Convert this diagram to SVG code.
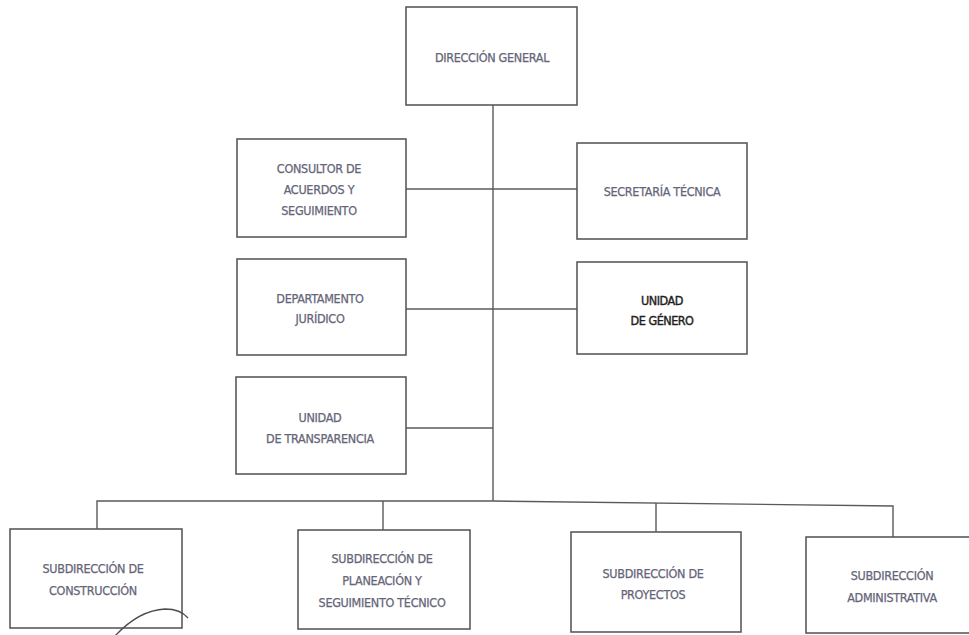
<svg xmlns="http://www.w3.org/2000/svg" width="969" height="635" viewBox="0 0 969 635">
<style>
.box{fill:#ffffff;stroke:#5a5a5e;stroke-width:1.6}
.ln{fill:none;stroke:#5a5a5e;stroke-width:1.4}
text{font-family:"DejaVu Sans Condensed","DejaVu Sans","Liberation Sans",sans-serif;font-size:12.5px;fill:#656578;stroke:#656578;stroke-width:0.25;text-anchor:middle;letter-spacing:-0.3px}
.dark{fill:#1e1e22;stroke:#1e1e22;stroke-width:0.4;letter-spacing:-0.5px}
</style>
<rect x="0" y="0" width="969" height="635" fill="#ffffff"/>
<g id="connectors">
<path class="ln" d="M493 105 V501"/>
<path class="ln" d="M406 189 H577"/>
<path class="ln" d="M406 309 H577"/>
<path class="ln" d="M406 428 H493"/>
<path class="ln" d="M97 529 V501 H493 L893 506 V537"/>
<path class="ln" d="M383 501 V530"/>
<path class="ln" d="M656 503 V532"/>
</g>
<g id="n_direccion"><rect class="box" x="406" y="7" width="171" height="98"/><text x="492" y="62">DIRECCIÓN GENERAL</text></g>
<g id="n_consultor"><rect class="box" x="237" y="139" width="169" height="98"/><text x="319" y="173">CONSULTOR DE</text><text x="319" y="194">ACUERDOS Y</text><text x="319" y="215">SEGUIMIENTO</text></g>
<g id="n_secretaria"><rect class="box" x="577" y="143" width="170" height="96"/><text x="662" y="196">SECRETARÍA TÉCNICA</text></g>
<g id="n_juridico"><rect class="box" x="237" y="259" width="169" height="96"/><text x="320" y="303">DEPARTAMENTO</text><text x="320" y="323">JURÍDICO</text></g>
<g id="n_genero"><rect class="box" x="577" y="262" width="170" height="92"/><text class="dark" x="662" y="305">UNIDAD</text><text class="dark" x="662" y="325">DE GÉNERO</text></g>
<g id="n_transparencia"><rect class="box" x="236" y="377" width="170" height="97"/><text x="320" y="422">UNIDAD</text><text x="320" y="443">DE TRANSPARENCIA</text></g>
<g id="n_construccion"><rect class="box" x="10" y="529" width="172" height="99"/><text x="93" y="573">SUBDIRECCIÓN DE</text><text x="93" y="595">CONSTRUCCIÓN</text></g>
<g id="n_planeacion"><rect class="box" x="298" y="530" width="172" height="99"/><text x="382" y="563">SUBDIRECCIÓN DE</text><text x="382" y="585">PLANEACIÓN Y</text><text x="382" y="607">SEGUIMIENTO TÉCNICO</text></g>
<g id="n_proyectos"><rect class="box" x="571" y="532" width="170" height="100"/><text x="653" y="578">SUBDIRECCIÓN DE</text><text x="653" y="599">PROYECTOS</text></g>
<g id="n_administrativa"><rect class="box" x="806" y="537" width="170" height="96"/><text x="892" y="580">SUBDIRECCIÓN</text><text x="892" y="602">ADMINISTRATIVA</text></g>
<path d="M115 636 C128 622 145 610 165 609 C176 609 183 612 188 618" fill="none" stroke="#4a4a52" stroke-width="1.3"/>
</svg>
